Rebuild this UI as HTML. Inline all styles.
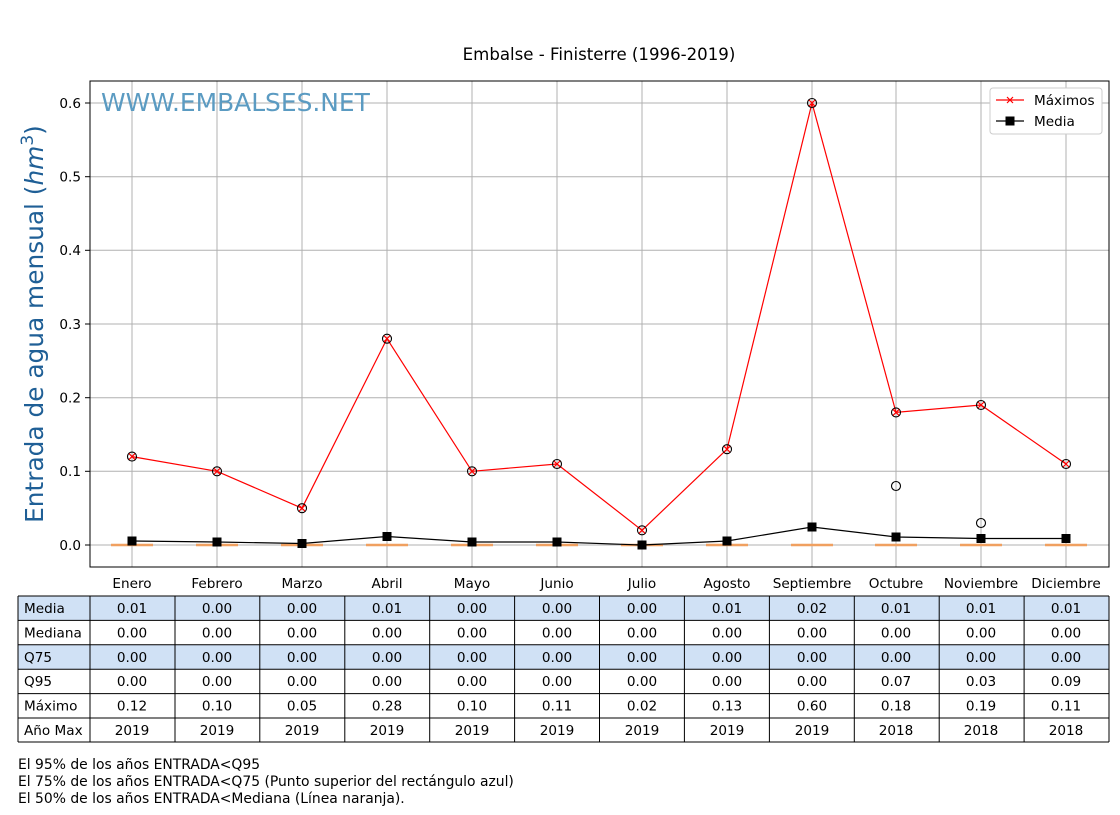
<!DOCTYPE html>
<html><head><meta charset="utf-8"><style>body{margin:0;background:#fff}svg{font-family:"DejaVu Sans","Liberation Sans",sans-serif}</style></head><body>
<svg width="1120" height="810" viewBox="0 0 1120 810" xmlns="http://www.w3.org/2000/svg">
<rect width="1120" height="810" fill="#fff"/>
<text x="599" y="60" font-size="16.6" text-anchor="middle">Embalse - Finisterre (1996-2019)</text>
<g stroke="#b0b0b0" stroke-width="1">
<line x1="132" y1="81" x2="132" y2="567"/><line x1="217" y1="81" x2="217" y2="567"/><line x1="302" y1="81" x2="302" y2="567"/><line x1="387" y1="81" x2="387" y2="567"/><line x1="472" y1="81" x2="472" y2="567"/><line x1="557" y1="81" x2="557" y2="567"/><line x1="642" y1="81" x2="642" y2="567"/><line x1="727" y1="81" x2="727" y2="567"/><line x1="812" y1="81" x2="812" y2="567"/><line x1="896" y1="81" x2="896" y2="567"/><line x1="981" y1="81" x2="981" y2="567"/><line x1="1066" y1="81" x2="1066" y2="567"/>
<line x1="90" y1="545" x2="1109" y2="545"/><line x1="90" y1="471.3" x2="1109" y2="471.3"/><line x1="90" y1="397.7" x2="1109" y2="397.7"/><line x1="90" y1="324" x2="1109" y2="324"/><line x1="90" y1="250.3" x2="1109" y2="250.3"/><line x1="90" y1="176.7" x2="1109" y2="176.7"/><line x1="90" y1="103" x2="1109" y2="103"/>
</g>
<text x="101" y="111" font-size="24.9" fill="#5b9bc2">WWW.EMBALSES.NET</text>
<g stroke="#f0a060" stroke-width="2.5"><line x1="111" y1="545" x2="153" y2="545"/><line x1="196" y1="545" x2="238" y2="545"/><line x1="281" y1="545" x2="323" y2="545"/><line x1="366" y1="545" x2="408" y2="545"/><line x1="451" y1="545" x2="493" y2="545"/><line x1="536" y1="545" x2="578" y2="545"/><line x1="621" y1="545" x2="663" y2="545"/><line x1="706" y1="545" x2="748" y2="545"/><line x1="791" y1="545" x2="833" y2="545"/><line x1="875" y1="545" x2="917" y2="545"/><line x1="960" y1="545" x2="1002" y2="545"/><line x1="1045" y1="545" x2="1087" y2="545"/></g>
<polyline fill="none" stroke="red" stroke-width="1.2" points="132,456.6 217,471.3 302,508.2 387,338.7 472,471.3 557,464 642,530.3 727,449.2 812,103 896,412.4 981,405 1066,464"/>
<g fill="none" stroke="#000" stroke-width="1.1"><circle cx="132" cy="456.6" r="4.5"/><circle cx="217" cy="471.3" r="4.5"/><circle cx="302" cy="508.2" r="4.5"/><circle cx="387" cy="338.7" r="4.5"/><circle cx="472" cy="471.3" r="4.5"/><circle cx="557" cy="464" r="4.5"/><circle cx="642" cy="530.3" r="4.5"/><circle cx="727" cy="449.2" r="4.5"/><circle cx="812" cy="103" r="4.5"/><circle cx="896" cy="412.4" r="4.5"/><circle cx="981" cy="405" r="4.5"/><circle cx="1066" cy="464" r="4.5"/><circle cx="896" cy="486" r="4.5"/><circle cx="981" cy="523" r="4.5"/></g>
<g stroke="red" stroke-width="1.2"><path d="M129,453.6l6,6m0-6l-6,6M214,468.3l6,6m0-6l-6,6M299,505.2l6,6m0-6l-6,6M384,335.7l6,6m0-6l-6,6M469,468.3l6,6m0-6l-6,6M554,461l6,6m0-6l-6,6M639,527.3l6,6m0-6l-6,6M724,446.2l6,6m0-6l-6,6M809,100l6,6m0-6l-6,6M893,409.4l6,6m0-6l-6,6M978,402l6,6m0-6l-6,6M1063,461l6,6m0-6l-6,6"/></g>
<polyline fill="none" stroke="#000" stroke-width="1.2" points="132,541 217,542 302,543.5 387,536.5 472,542 557,542 642,545 727,541 812,527 896,537 981,538.5 1066,538.5"/>
<g fill="#000"><rect x="127.5" y="536.5" width="9" height="9"/><rect x="212.5" y="537.5" width="9" height="9"/><rect x="297.5" y="539" width="9" height="9"/><rect x="382.5" y="532" width="9" height="9"/><rect x="467.5" y="537.5" width="9" height="9"/><rect x="552.5" y="537.5" width="9" height="9"/><rect x="637.5" y="540.5" width="9" height="9"/><rect x="722.5" y="536.5" width="9" height="9"/><rect x="807.5" y="522.5" width="9" height="9"/><rect x="891.5" y="532.5" width="9" height="9"/><rect x="976.5" y="534" width="9" height="9"/><rect x="1061.5" y="534" width="9" height="9"/></g>
<rect x="90" y="81" width="1019" height="486" fill="none" stroke="#000" stroke-width="1"/>
<g stroke="#000"><line x1="85" y1="545" x2="90" y2="545"/><line x1="85" y1="471.3" x2="90" y2="471.3"/><line x1="85" y1="397.7" x2="90" y2="397.7"/><line x1="85" y1="324" x2="90" y2="324"/><line x1="85" y1="250.3" x2="90" y2="250.3"/><line x1="85" y1="176.7" x2="90" y2="176.7"/><line x1="85" y1="103" x2="90" y2="103"/></g>
<g font-size="13.6" text-anchor="end"><text x="81" y="550">0.0</text><text x="81" y="476">0.1</text><text x="81" y="402.5">0.2</text><text x="81" y="329">0.3</text><text x="81" y="255">0.4</text><text x="81" y="181.5">0.5</text><text x="81" y="108">0.6</text></g>
<g font-size="13.6" text-anchor="middle"><text x="132" y="588">Enero</text><text x="217" y="588">Febrero</text><text x="302" y="588">Marzo</text><text x="387" y="588">Abril</text><text x="472" y="588">Mayo</text><text x="557" y="588">Junio</text><text x="642" y="588">Julio</text><text x="727" y="588">Agosto</text><text x="812" y="588">Septiembre</text><text x="896" y="588">Octubre</text><text x="981" y="588">Noviembre</text><text x="1066" y="588">Diciembre</text></g>
<text transform="translate(43,324) rotate(-90)" font-size="24.8" fill="#1f5f96" text-anchor="middle">Entrada de agua mensual (<tspan font-style="italic">hm</tspan><tspan dy="-10" font-size="17">3</tspan><tspan dy="10">)</tspan></text>
<rect x="990" y="88" width="112" height="46" rx="3" fill="#fff" stroke="#ccc"/>
<line x1="996" y1="100" x2="1024" y2="100" stroke="red" stroke-width="1.2"/><path d="M1007,97l6,6m0-6l-6,6" stroke="red" stroke-width="1.2"/>
<text x="1034" y="105" font-size="13.6">Máximos</text>
<line x1="996" y1="121" x2="1024" y2="121" stroke="#000" stroke-width="1.2"/><rect x="1005.5" y="116.5" width="9" height="9"/>
<text x="1034" y="126" font-size="13.6">Media</text>
<g font-size="13.6">
<rect x="18" y="596" width="1091" height="24.4" fill="#d0e1f5"/><rect x="18" y="644.8" width="1091" height="24.4" fill="#d0e1f5"/>
<g stroke="#000" stroke-width="1">
<line x1="18" y1="596" x2="1109" y2="596"/><line x1="18" y1="620.4" x2="1109" y2="620.4"/><line x1="18" y1="644.8" x2="1109" y2="644.8"/><line x1="18" y1="669.2" x2="1109" y2="669.2"/><line x1="18" y1="693.6" x2="1109" y2="693.6"/><line x1="18" y1="718" x2="1109" y2="718"/><line x1="18" y1="742" x2="1109" y2="742"/>
<line x1="18" y1="596" x2="18" y2="742"/><line x1="90" y1="596" x2="90" y2="742"/><line x1="175" y1="596" x2="175" y2="742"/><line x1="259.8" y1="596" x2="259.8" y2="742"/><line x1="344.8" y1="596" x2="344.8" y2="742"/><line x1="429.7" y1="596" x2="429.7" y2="742"/><line x1="514.6" y1="596" x2="514.6" y2="742"/><line x1="599.5" y1="596" x2="599.5" y2="742"/><line x1="684.4" y1="596" x2="684.4" y2="742"/><line x1="769.4" y1="596" x2="769.4" y2="742"/><line x1="854.3" y1="596" x2="854.3" y2="742"/><line x1="939.2" y1="596" x2="939.2" y2="742"/><line x1="1024.1" y1="596" x2="1024.1" y2="742"/><line x1="1109" y1="596" x2="1109" y2="742"/>
</g>
<text x="24" y="613">Media</text><text x="24" y="637.5">Mediana</text><text x="24" y="662">Q75</text><text x="24" y="686">Q95</text><text x="24" y="710.5">Máximo</text><text x="24" y="735">Año Max</text>
<g text-anchor="middle">
<text y="613"><tspan x="132">0.01</tspan><tspan x="217">0.00</tspan><tspan x="302">0.00</tspan><tspan x="387">0.01</tspan><tspan x="472">0.00</tspan><tspan x="557">0.00</tspan><tspan x="642">0.00</tspan><tspan x="727">0.01</tspan><tspan x="812">0.02</tspan><tspan x="896">0.01</tspan><tspan x="981">0.01</tspan><tspan x="1066">0.01</tspan></text>
<text y="637.5"><tspan x="132">0.00</tspan><tspan x="217">0.00</tspan><tspan x="302">0.00</tspan><tspan x="387">0.00</tspan><tspan x="472">0.00</tspan><tspan x="557">0.00</tspan><tspan x="642">0.00</tspan><tspan x="727">0.00</tspan><tspan x="812">0.00</tspan><tspan x="896">0.00</tspan><tspan x="981">0.00</tspan><tspan x="1066">0.00</tspan></text>
<text y="662"><tspan x="132">0.00</tspan><tspan x="217">0.00</tspan><tspan x="302">0.00</tspan><tspan x="387">0.00</tspan><tspan x="472">0.00</tspan><tspan x="557">0.00</tspan><tspan x="642">0.00</tspan><tspan x="727">0.00</tspan><tspan x="812">0.00</tspan><tspan x="896">0.00</tspan><tspan x="981">0.00</tspan><tspan x="1066">0.00</tspan></text>
<text y="686"><tspan x="132">0.00</tspan><tspan x="217">0.00</tspan><tspan x="302">0.00</tspan><tspan x="387">0.00</tspan><tspan x="472">0.00</tspan><tspan x="557">0.00</tspan><tspan x="642">0.00</tspan><tspan x="727">0.00</tspan><tspan x="812">0.00</tspan><tspan x="896">0.07</tspan><tspan x="981">0.03</tspan><tspan x="1066">0.09</tspan></text>
<text y="710.5"><tspan x="132">0.12</tspan><tspan x="217">0.10</tspan><tspan x="302">0.05</tspan><tspan x="387">0.28</tspan><tspan x="472">0.10</tspan><tspan x="557">0.11</tspan><tspan x="642">0.02</tspan><tspan x="727">0.13</tspan><tspan x="812">0.60</tspan><tspan x="896">0.18</tspan><tspan x="981">0.19</tspan><tspan x="1066">0.11</tspan></text>
<text y="735"><tspan x="132">2019</tspan><tspan x="217">2019</tspan><tspan x="302">2019</tspan><tspan x="387">2019</tspan><tspan x="472">2019</tspan><tspan x="557">2019</tspan><tspan x="642">2019</tspan><tspan x="727">2019</tspan><tspan x="812">2019</tspan><tspan x="896">2018</tspan><tspan x="981">2018</tspan><tspan x="1066">2018</tspan></text>
</g>
<text x="18" y="769" font-size="13.9">El 95% de los años ENTRADA&lt;Q95</text>
<text x="18" y="786" font-size="13.9">El 75% de los años ENTRADA&lt;Q75 (Punto superior del rectángulo azul)</text>
<text x="18" y="803" font-size="13.9">El 50% de los años ENTRADA&lt;Mediana (Línea naranja).</text>
</g>
</svg>
</body></html>
